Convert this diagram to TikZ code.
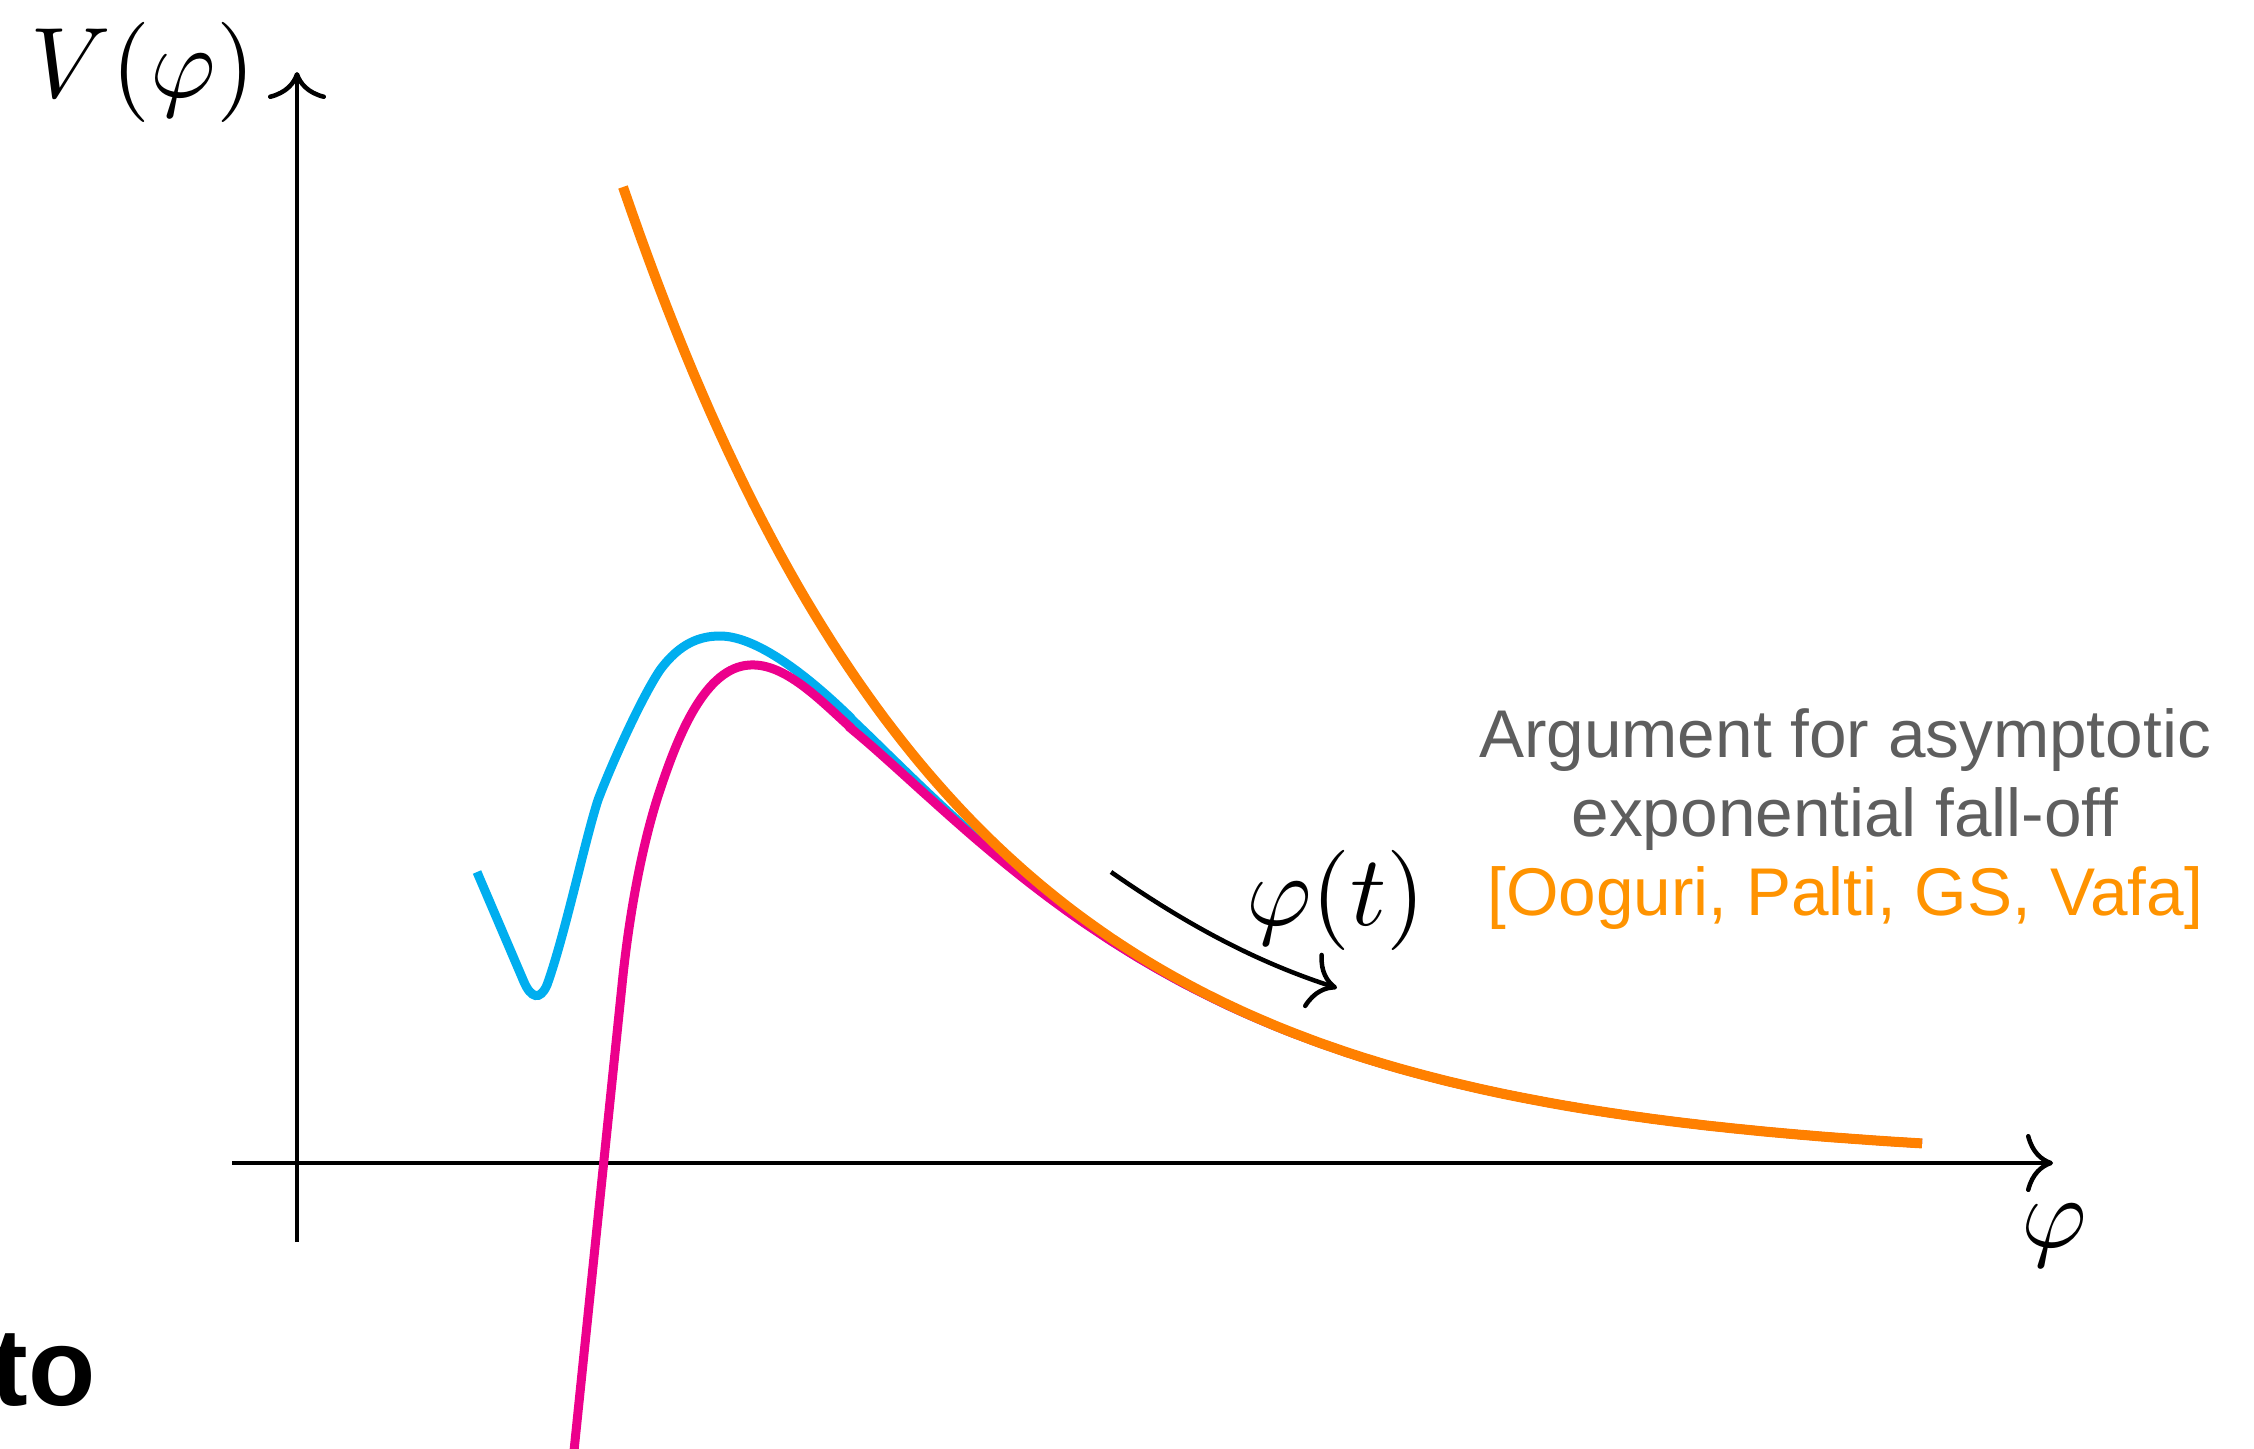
\documentclass[tikz,border=0pt]{standalone}
\usepackage{fontspec}
\newfontfamily\hel{Liberation Sans}
\usetikzlibrary{arrows.meta}
\definecolor{curveorange}{RGB}{255,128,0}
\definecolor{citeorange}{RGB}{255,147,0}
\definecolor{txtgray}{RGB}{94,94,94}
\definecolor{vcyan}{RGB}{0,174,239}
\definecolor{vmag}{RGB}{236,0,140}
\begin{document}
\begin{tikzpicture}[x=0.01cm,y=-0.01cm,
  declare function={orng(\x)=1163-976*exp(-0.003*(\x-623));},
  axisline/.style={line width=0.45mm,-{Computer Modern Rightarrow[length=2.7mm,width=5.8mm]}},
  flowarrow/.style={line width=0.45mm,-{Computer Modern Rightarrow[length=2.7mm,width=5.8mm]}},
  mathlbl/.style={anchor=base,inner sep=0pt,font=\fontsize{10}{12}\selectfont,scale=2.85},
  notetext/.style={anchor=base,inner sep=0pt,font=\hel\fontsize{19.2}{23}\selectfont},
  orangecurve/.style={line width=1.0mm,draw=curveorange},
  cyancurve/.style={line width=0.9mm,draw=vcyan},
  magcurve/.style={line width=0.9mm,draw=vmag}]
\useasboundingbox (0,0) rectangle (2254,1448);
\clip (0,0) rectangle (2254,1448);

% axes
\coordinate (xs) at (232,1163);
\coordinate (xe) at (2053,1163);
\coordinate (ys) at (297,1242);
\coordinate (ye) at (297,72);
\draw[axisline] (xs) -- (xe);
\draw[axisline] (ys) -- (ye);

% axis labels
\node[mathlbl] (vlab) at (143,97) {$V(\varphi)$};
\node[mathlbl] (philab) at (2054,1247) {$\varphi$};

% cyan curve
\draw[cyancurve] (477,872) -- (524,982)
  .. controls (531,998) and (540,1001) .. (547,985)
  .. controls (565,935) and (585,840) .. (598,800)
  .. controls (610,768) and (640,700) .. (660,670)
  .. controls (680,643) and (700,636) .. (720,636)
  .. controls (760,636) and (815,683) .. (850,717)
  -- plot[domain=850:1922,samples=120] (\x,{orng(\x)+48*exp(-(\x-850)/90)});

% magenta curve
\draw[magcurve] (571,1480) -- (622,985)
  .. controls (628,925) and (640,850) .. (660,790)
  .. controls (678,736) and (705,667) .. (750,665)
  .. controls (785,663) and (820,700) .. (850,727)
  -- plot[domain=850:1922,samples=120] (\x,{orng(\x)+58*exp(-(\x-850)/88)});

% orange curve
\draw[orangecurve] plot[domain=623:1922,samples=150] (\x,{orng(\x)});

% flow arrow
\coordinate (ts) at (1111,872);
\coordinate (te) at (1337,988);
\draw[flowarrow] (ts) .. controls (1180,920) and (1250,960) .. (te);
\node[mathlbl] (phit) at (1336,925) {$\varphi(t)$};

% note
\node[notetext,text=txtgray] (note1) at (1845,757) {Argument for asymptotic};
\node[notetext,text=txtgray] (note2) at (1845,836) {exponential fall-off};
\node[notetext,text=citeorange] (note3) at (1845,915) {[Ooguri, Palti, GS, Vafa]};

% cut-off word (cropped at the left edge, as in the reference)
\node[anchor=base west,inner sep=0pt,font=\hel\bfseries\fontsize{31.3}{37}\selectfont] (tofrag) at (-9,1405) {to};
\end{tikzpicture}
\end{document}
